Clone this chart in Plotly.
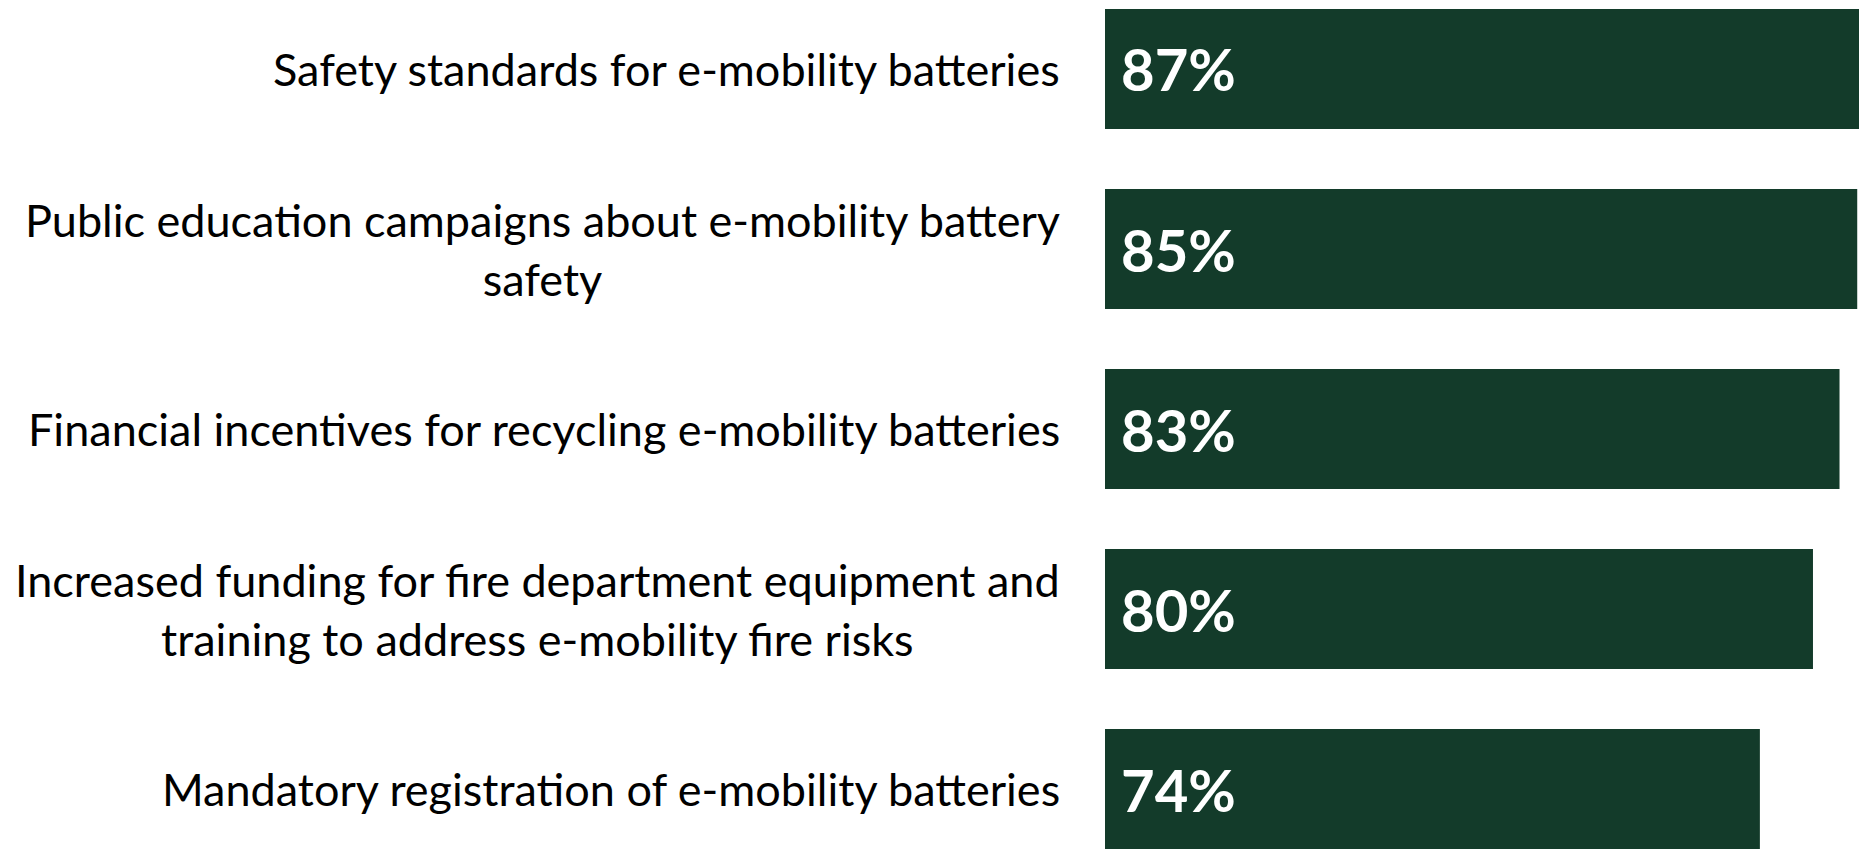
import plotly.graph_objects as go

# Survey items (top to bottom) and share of support
categories = [
    "Safety standards for e-mobility batteries",
    "Public education campaigns about e-mobility battery<br>safety",
    "Financial incentives for recycling e-mobility batteries",
    "Increased funding for fire department equipment and<br>training to address e-mobility fire risks",
    "Mandatory registration of e-mobility batteries",
]
values = [87, 85, 83, 80, 74]

BAR_COLOR = "#133B2A"
LABEL_FONT = "Lato"

fig = go.Figure()
fig.add_trace(go.Bar(
    x=values,
    y=categories,
    orientation="h",
    marker=dict(color=BAR_COLOR, line=dict(width=0)),
    hoverinfo="skip",
))

annotations = []
for cat, val in zip(categories, values):
    # value label inside the bar, near its base
    annotations.append(dict(
        x=0, y=cat, xref="x", yref="y",
        text=f"<b>{val}%</b>",
        showarrow=False, xanchor="left", yanchor="middle",
        xshift=14,
        font=dict(family=LABEL_FONT, size=58, color="white"),
    ))
    # category label to the left of the bars
    annotations.append(dict(
        x=0, y=cat, xref="paper", yref="y",
        text=cat,
        showarrow=False, xanchor="right", yanchor="middle",
        align="center", xshift=-43,
        font=dict(family=LABEL_FONT, size=45, color="black"),
    ))

fig.update_layout(
    width=1859, height=849,
    margin=dict(l=1105, r=0, t=0, b=0),
    paper_bgcolor="white", plot_bgcolor="white",
    bargap=1/3,
    showlegend=False,
    annotations=annotations,
    xaxis=dict(range=[0, 85.2], visible=False, fixedrange=True),
    yaxis=dict(
        type="category",
        categoryorder="array", categoryarray=categories,
        range=[4.3333, -0.3833],
        showticklabels=False, showgrid=False, zeroline=False,
        fixedrange=True,
    ),
)

fig.write_html("out.html")
